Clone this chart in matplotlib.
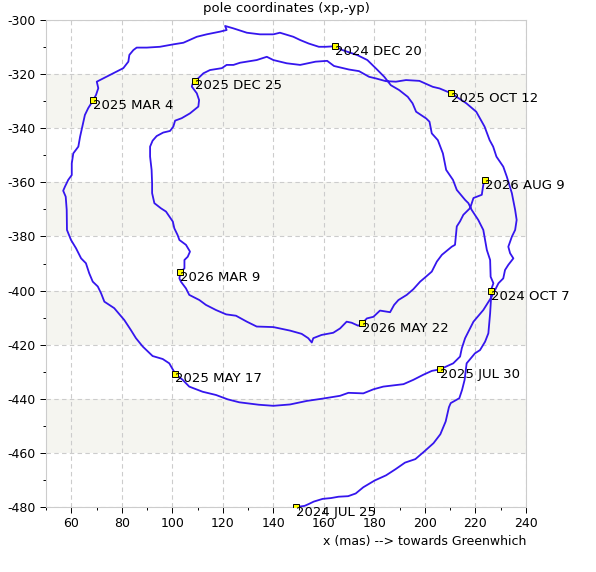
import matplotlib.pyplot as plt

plt.rcParams["font.family"] = "DejaVu Sans"
plt.rcParams["axes.unicode_minus"] = False

# Pole path (x in mas, -y in mas)
xp = [149, 152.3, 154, 156, 159.5, 162.8, 165.8, 169.6, 172.6, 175.6, 180.1, 184.6, 188.4,
      192.1, 196.2, 199.7, 203.4, 206.1, 208.2, 209.5, 210.2, 213.6, 214.7, 215.7, 216.5,
      219.8, 221.8, 223.8, 225.1, 225.8, 226.2, 226.0, 227.1, 226, 225.8, 224.5, 223.1,
      221.1, 218.5, 217.2, 215.9, 212.6, 211.1, 208.4, 207.1, 205.1, 202.7, 201.8, 200.5,
      196.5, 195.1, 193.2, 189.8, 186.5, 183.9, 180.6, 177.2, 173.3, 167.3, 164.4, 160.7,
      158, 154, 150.6, 147.9, 142.6, 140, 134.7, 129.5, 124.2, 120.9, 121.5, 118.9, 113.6,
      109.7, 104.4, 100.4, 95.1, 89.9, 85.9, 84.6, 83, 82.6, 80.6, 76.6, 74, 70.1, 70.7,
      69.8, 68.7, 66.7, 65.4, 64.1, 63.5, 62.8, 60.8, 60.2, 60.2, 58.8, 57.5, 56.8, 57.8,
      58.2, 58.3, 59.9, 61.9, 63.9, 65.8, 67.1, 68.5, 70.5, 71.8, 73.1, 77, 81, 83.6, 85.6,
      88.3, 92.2, 96.2, 98.8, 101.2, 104.1, 106.7, 112, 117.3, 121.9, 126.5, 134.2, 140,
      146.6, 153.2, 159.8, 166.4, 169.7, 175.6, 179.6, 183.5, 191.5, 195.4, 199.4, 202.7,
      206, 211.2, 213.9, 214.6, 215.9, 219.2, 223.1, 226.4, 229.1, 231, 231.7, 233, 235,
      233.7, 233, 234.4, 235.7, 236.3, 235.7, 234.4, 232.4, 231, 228.3, 227, 225.6, 223.6,
      220.3, 216.4, 210.4, 205.8, 203.1, 197.8, 192.5, 188.5, 184.5, 180.6, 177.9, 173.9,
      169.9, 164, 161.3, 156.7, 150.6, 145.3, 140, 137.4, 133.4, 126.8, 124.2, 121.5, 119.6,
      114.9, 112.3, 110.3, 109.1, 108.1, 107.7, 109.7, 110.6, 110.3, 107, 103.7, 101.1,
      100.4, 99.1, 96.4, 93.8, 92.2, 91.2, 91.2, 91.8, 92, 92, 92.9, 95.5, 97.5, 100.2,
      100.8, 102.1, 102.8, 105.4, 107, 106.1, 104.8, 104.8, 103.2, 102.8, 103.4, 105.4,
      106.7, 110.7, 113.3, 117.3, 121.3, 125.2, 129.5, 133.4, 140, 146.6, 151.2, 153.8,
      155.2, 155.8, 159.1, 163.7, 166.4, 169, 171, 173.6, 175.2, 177, 179.6, 182.2, 186.2,
      187.8, 189.5, 192.8, 195.4, 198.1, 200, 202.7, 204.7, 206.7, 210.6, 211.9, 212.6,
      213.9, 215.2, 217.9, 219.2, 222.5, 223.1, 223.8]
yp = [-480, -479.6, -478.9, -478, -477, -476.7, -476.2, -476, -475, -472.7, -470.2, -468.3,
      -466, -463.6, -462.3, -459.5, -456.4, -453.1, -448.4, -443.1, -441.6, -439.8, -436.7,
      -433, -426.9, -423.2, -422, -418.9, -415.8, -408.4, -402.3, -400.2, -397.3, -394.9,
      -388.7, -385, -377.6, -373.9, -370.2, -367.7, -366.5, -362.8, -359.1, -355.4, -349.3,
      -344.4, -341.9, -337.6, -336.4, -333.9, -330.8, -328.4, -325.9, -324.1, -321, -317.9,
      -314.8, -313, -311.1, -309.7, -309.9, -309.9, -308.7, -307.4, -306.2, -304.7, -305.3,
      -305.3, -304.7, -303.1, -302.2, -303.7, -304.3, -305.3, -306.2, -308.4, -309, -309.9,
      -310.2, -310.2, -311.1, -312.9, -315.4, -317.8, -319.7, -320.9, -322.8, -325.2,
      -327.7, -329.6, -332.6, -335.1, -340.6, -343.1, -346.8, -349.3, -353, -357.3, -359.1,
      -361.6, -363.1, -365.3, -370.2, -377.6, -381.3, -384.4, -388.1, -389.9, -393.6,
      -396.7, -398.5, -401, -404.1, -406.5, -410.9, -414.6, -417.6, -420.7, -424.2, -425.3,
      -426.9, -430.8, -433, -435.5, -437.4, -438.6, -440.2, -441.3, -442.2, -442.6, -442.1,
      -440.8, -439.9, -438.9, -437.8, -438, -436.5, -435.5, -434.6, -433, -431.1, -429.7,
      -429.1, -426.9, -424.4, -421.3, -417.6, -411.5, -407.2, -402.3, -397.3, -395.5,
      -392.4, -390.5, -388.1, -386.2, -383.8, -380.1, -377.6, -373.9, -370.2, -364, -357.9,
      -354.2, -350.5, -346.8, -344.4, -339.4, -333.9, -330.8, -327.1, -325.3, -324.7,
      -322.5, -322.2, -322.8, -322.6, -321.6, -321, -318.9, -318.3, -317, -315.1, -315.4,
      -316.6, -316, -314.8, -313.6, -314.8, -315.8, -316.6, -316.6, -317.8, -318.5, -319.7,
      -321.5, -322.5, -323.4, -324.6, -327.1, -329.6, -332, -334.5, -336.3, -337.2, -339.4,
      -341, -341.6, -342.9, -344.6, -346.8, -350.5, -355.4, -360.3, -364, -367.7, -369.6,
      -370.8, -374.5, -377, -379.5, -381.3, -383.1, -385.6, -387.5, -388.7, -391.8, -393.2,
      -395.5, -396.7, -399.2, -401.6, -403.5, -405.3, -407.2, -408.8, -409.3, -411.5,
      -413.3, -413.5, -414.8, -416, -417.6, -419.2, -417.6, -416.4, -415.6, -414, -411.5,
      -411.9, -413, -412.1, -410.3, -409.7, -407.4, -408, -405.3, -403.5, -401.6, -399.5,
      -396.7, -395.2, -393, -389.3, -386.8, -383.8, -383.1, -376.3, -374.4, -372, -369.5,
      -365.8, -364.6, -360.9, -359.1]

# dated markers
mark_x = [149, 226.0, 164.4, 68.7, 101.2, 206, 210.4, 109.1, 103.2, 175.2, 223.8]
mark_y = [-480, -400.2, -309.7, -329.6, -430.8, -429.1, -327.1, -322.5, -393.2, -412.1, -359.1]
mark_labels = ["2024 JUL 25", "2024 OCT 7", "2024 DEC 20", "2025 MAR 4", "2025 MAY 17",
               "2025 JUL 30", "2025 OCT 12", "2025 DEC 25", "2026 MAR 9", "2026 MAY 22",
               "2026 AUG 9"]

# shaded horizontal bands
bands = [(-340, -320), (-380, -360), (-420, -400), (-460, -440)]

fig = plt.figure(figsize=(5.96, 5.72), dpi=100)
ax = fig.add_axes([46 / 596, 1 - 507 / 572, 480 / 596, 487 / 572])

for lo, hi in bands:
    ax.axhspan(lo, hi, color="#f5f5f0", zorder=0, lw=0)

ax.plot(xp, yp, color="#3516ee", lw=1.3, zorder=3)
ax.plot(mark_x, mark_y, ls="none", marker="s", ms=4, mfc="#ffff00", mec="black",
        mew=0.7, zorder=4)
for x, y, lab in zip(mark_x, mark_y, mark_labels):
    ax.annotate(lab, (x, y), xytext=(0, 1), textcoords="offset points",
                ha="left", va="top", fontsize=9.5, zorder=5, annotation_clip=False)

ax.set_xlim(50, 240)
ax.set_ylim(-480, -300)
ax.set_xticks(range(60, 241, 20))
ax.set_xticks(range(50, 241, 10), minor=True)
ax.set_yticks(range(-480, -299, 20))
ax.set_yticks(range(-480, -299, 10), minor=True)
ax.grid(True, which="major", color="#cccccc", ls=(0, (4, 3)), lw=0.8, zorder=1)
ax.set_axisbelow(True)
ax.tick_params(which="major", length=4, width=0.7, labelsize=9, color="black")
ax.tick_params(which="minor", length=2, width=0.7, color="black")
for sp in ax.spines.values():
    sp.set_color("#cccccc")

ax.set_title("pole coordinates (xp,-yp)", fontsize=9.5, pad=6)
ax.set_xlabel("x (mas) --> towards Greenwhich", fontsize=9, loc="right", labelpad=3)

fig.savefig("out.png", dpi=100)
